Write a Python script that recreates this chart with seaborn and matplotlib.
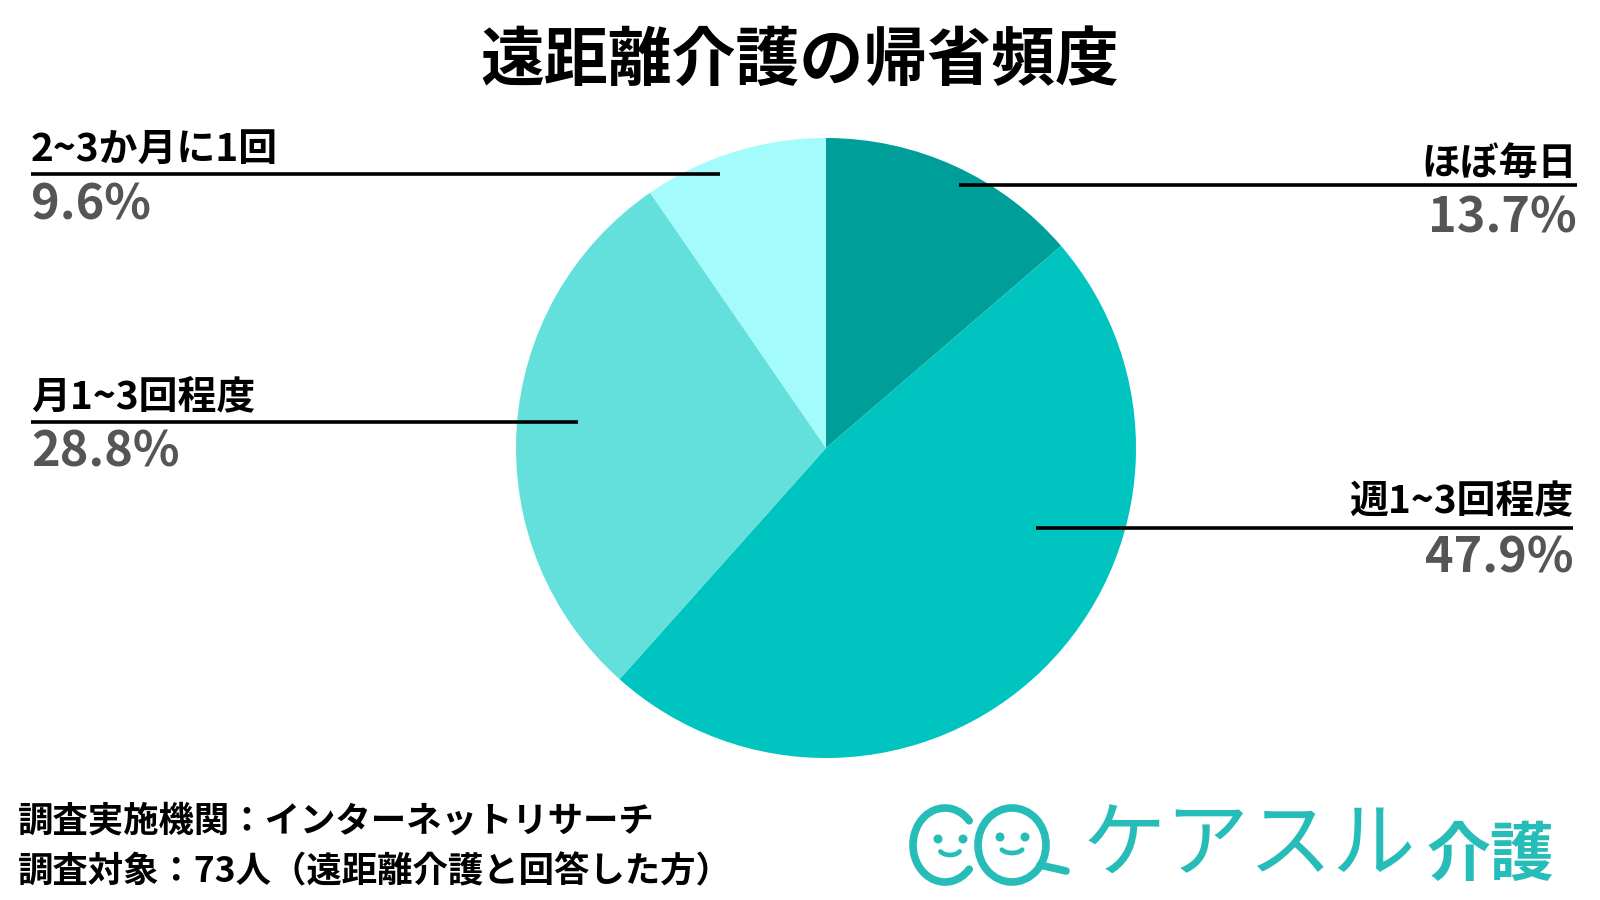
import matplotlib
matplotlib.use("Agg")
import matplotlib.pyplot as plt
from matplotlib.patches import Arc, Ellipse, Circle
import seaborn as sns

# ---- data ----
title = "遠距離介護の帰省頻度"
categories = ["ほぼ毎日", "週1~3回程度", "月1~3回程度", "2~3か月に1回"]
values = [13.7, 47.9, 28.8, 9.6]
colors = ["#009E99", "#00C4C0", "#63E0DC", "#A3FBFB"]
footer_lines = ["調査実施機関：インターネットリサーチ",
                "調査対象：73人（遠距離介護と回答した方）"]
logo_main = "ケアスル"
logo_sub = "介護"

sns.set_theme(style="white")
plt.rcParams["font.family"] = ["Noto Sans CJK JP", "DejaVu Sans"]

W, H = 1600, 900
fig = plt.figure(figsize=(16, 9), dpi=100)
fig.patch.set_facecolor("white")

# pie axes: center (826, 448), radius 310 px
cx, cy, r = 826, 448, 310
ax = fig.add_axes([(cx - r) / W, (H - cy - r) / H, 2 * r / W, 2 * r / H])
palette = sns.color_palette(colors)
ax.pie(values, colors=palette, startangle=90, counterclock=False,
       wedgeprops=dict(linewidth=0))
ax.set_xlim(-1, 1)
ax.set_ylim(-1, 1)
ax.set_aspect("equal")
ax.axis("off")

# overlay in pixel coordinates
ov = fig.add_axes([0, 0, 1, 1], zorder=5)
ov.set_xlim(0, W)
ov.set_ylim(H, 0)
ov.axis("off")
ov.patch.set_visible(False)

ov.text(800, 61, title, ha="center", va="center", fontsize=46,
        fontweight="bold", color="black")

# label layout: (text x, ha, label y, line y, pct y, line x0, line x1)
layout = {
    "ほぼ毎日":    (1577, "right", 163, 185, 218, 959, 1577),
    "週1~3回程度": (1573, "right", 502, 528, 558, 1036, 1573),
    "月1~3回程度": (31, "left", 398, 422, 452, 31, 578),
    "2~3か月に1回": (31, "left", 149, 174, 205, 31, 720),
}
for cat, val in zip(categories, values):
    tx, ha, ly, lny, py, x0, x1 = layout[cat]
    ov.text(tx, ly, cat, ha=ha, va="center", fontsize=28,
            fontweight="bold", color="black")
    ov.plot([x0, x1], [lny, lny], color="black", lw=2.6,
            solid_capstyle="butt")
    ov.text(tx, py, f"{val}%", ha=ha, va="center", fontsize=35,
            fontweight="bold", color="#555555")

# footer
ov.text(18, 821, footer_lines[0], ha="left", va="center", fontsize=25.5,
        fontweight="bold", color="black")
ov.text(18, 872, footer_lines[1], ha="left", va="center", fontsize=25.5,
        fontweight="bold", color="black")

# logo
teal = "#26BDB8"
lw = 5.5
ov.add_patch(Arc((945, 845), 64, 74, theta1=45, theta2=315,
                 color=teal, lw=lw, capstyle="round"))
ov.add_patch(Ellipse((1012, 845), 68, 74, fill=False,
                     edgecolor=teal, lw=lw))
ov.plot([1040, 1066], [865, 871], color=teal, lw=lw, solid_capstyle="round")
for ex, ey in [(938, 839), (963, 839), (1000, 837), (1025, 837)]:
    ov.add_patch(Circle((ex, ey), 3.8, color=teal))
ov.add_patch(Arc((950, 848), 22, 14, theta1=20, theta2=160, color=teal,
                 lw=3.4, capstyle="round"))
ov.add_patch(Arc((1012, 846), 24, 14, theta1=20, theta2=160, color=teal,
                 lw=3.4, capstyle="round"))
ov.text(1082, 846, logo_main, ha="left", va="center", fontsize=60,
        fontweight="regular", color=teal)
ov.text(1427, 856, logo_sub, ha="left", va="center", fontsize=46,
        fontweight="bold", color=teal)

fig.savefig("out.png", dpi=100, facecolor="white")
